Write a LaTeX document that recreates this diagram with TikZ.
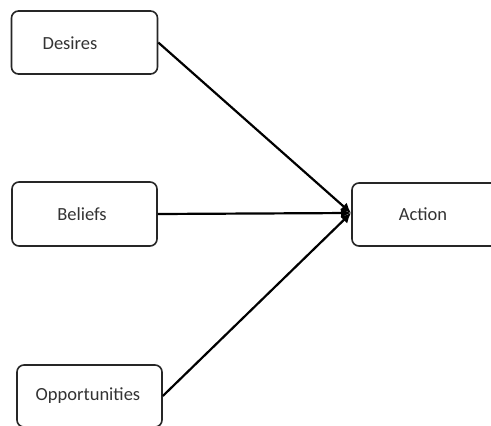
\documentclass[tikz,border=0pt]{standalone}
\usepackage{fontspec}
\setmainfont{Carlito}
\usetikzlibrary{arrows.meta}
\begin{document}
\begin{tikzpicture}[x=1pt,y=-1pt,
  box/.style={draw=black!85, line width=1.6pt, rounded corners=7pt, fill=white, inner sep=0pt},
  lbl/.style={font=\fontsize{18.5}{21}\selectfont, text=black!80},
  conn/.style={draw=black, line width=2.2pt, -{Latex[length=10pt,width=10pt]}}]
\useasboundingbox (0,0) rectangle (491,426);
\clip (0,0) rectangle (491,426);
\node[box, minimum width=146pt, minimum height=63pt] (d) at (84.5,42.5) {};
\node[lbl] (dt) at (70,43) {Desires};
\node[box, minimum width=145pt, minimum height=64pt] (b) at (84.5,214) {};
\node[lbl] (bt) at (82,214) {Beliefs};
\node[box, minimum width=145pt, minimum height=62pt] (o) at (89.5,396) {};
\node[lbl] (ot) at (88,396) {Opportunities};
\node[box, minimum width=150pt, minimum height=63pt] (a) at (427,214.5) {};
\node[lbl] (at) at (423,214) {Action};
\coordinate (tip) at (351,213);
\draw[conn] (d.east) -- (tip);
\draw[conn] (b.east) -- (tip);
\draw[conn] (o.east) -- (tip);
\end{tikzpicture}
\end{document}
